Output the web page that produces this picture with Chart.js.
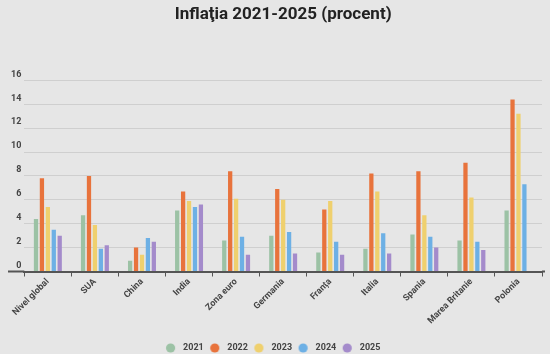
<!DOCTYPE html>
<html><head><meta charset="utf-8">
<script src="https://cdn.jsdelivr.net/npm/chart.js@4/dist/chart.umd.min.js"></script>
<style>html,body{margin:0;padding:0;background:#e6e6e6;} #wrap{width:550px;height:354px;position:relative;}</style>
</head><body><div id="wrap"><canvas id="c"></canvas></div>
<script>
const categories = ['Nivel global','SUA','China','India','Zona euro','Germania','Franța','Italia','Spania','Marea Britanie','Polonia'];
const years = ['2021','2022','2023','2024','2025'];
const v2021 = [4.4,4.7,0.9,5.1,2.6,3.0,1.6,1.9,3.1,2.6,5.1];
const v2022 = [7.8,8.0,2.0,6.7,8.4,6.9,5.2,8.2,8.4,9.1,14.4];
const v2023 = [5.4,3.9,1.4,5.9,6.1,6.0,5.9,6.7,4.7,6.2,13.2];
const v2024 = [3.5,1.9,2.8,5.4,2.9,3.3,2.5,3.2,2.9,2.5,7.3];
const v2025 = [3.0,2.2,2.5,5.6,1.4,1.5,1.4,1.5,2.0,1.8,null];
const yTickValues = [0,2,4,6,8,10,12,14,16];
const titleText = 'Inflaţia 2021-2025 (procent)';

const colors = ['#9cc2a5','#e8733c','#efd06e','#6db0e5','#a48bcb'];
const seriesValues = [v2021,v2022,v2023,v2024,v2025];

function legendDot(color){
  const cv = document.createElement('canvas');
  cv.width = 20; cv.height = 12;
  const g = cv.getContext('2d');
  g.fillStyle = color;
  g.beginPath(); g.arc(10-3.5, 6, 4.6, 0, Math.PI*2); g.fill();
  return cv;
}

const baselineExt = {
  id:'baselineExt',
  afterDatasetsDraw(chart){
    const y = chart.scales.y.getPixelForValue(0);
    const ctx = chart.ctx;
    ctx.save();
    ctx.strokeStyle = '#555';
    ctx.lineWidth = 2;
    ctx.beginPath();
    ctx.moveTo(8, y); ctx.lineTo(chart.chartArea.left, y);
    ctx.moveTo(chart.chartArea.right, y); ctx.lineTo(chart.chartArea.right + 3, y);
    ctx.stroke();
    ctx.restore();
  }
};

new Chart(document.getElementById('c'), {
  type:'bar',
  data:{
    labels: categories,
    datasets: years.map((yr,i)=>({
      label: yr,
      data: seriesValues[i],
      backgroundColor: colors[i],
      categoryPercentage: 0.63,
      barPercentage: 0.72
    }))
  },
  plugins:[baselineExt],
  options:{
    responsive:true,
    maintainAspectRatio:false,
    animation:false,
    layout:{padding:{left:8,right:8,top:0,bottom:-8.5}},
    plugins:{
      title:{display:true,text:titleText,color:'#222',fullSize:false,
        font:{family:'Roboto',size:17,weight:'bold'},
        padding:{top:5,bottom:55}},
      legend:{position:'bottom',
        labels:{color:'#444',font:{family:'Roboto',size:9,weight:'bold'},
          boxWidth:9,boxHeight:9,padding:10,usePointStyle:true,
          generateLabels(chart){
            return chart.data.datasets.map((ds,i)=>({
              text: ds.label, fillStyle: colors[i], strokeStyle: colors[i],
              lineWidth:0, pointStyle: legendDot(colors[i]), hidden:false, datasetIndex:i,
              fontColor:'#444'
            }));
          }}},
      tooltip:{enabled:false}
    },
    scales:{
      x:{
        afterFit(scale){ scale.height = 62; },
        grid:{display:true,drawOnChartArea:false,drawTicks:true,tickLength:5,color:'#555',offset:true},
        border:{display:true,color:'#555',width:2},
        ticks:{color:'#444',font:{family:'Roboto',size:9,weight:'bold'},maxRotation:45,minRotation:45,padding:0,autoSkip:false}
      },
      y:{
        min:0,max:16,
        afterBuildTicks(scale){ scale.ticks = yTickValues.map(v=>({value:v})); },
        grid:{color:'#cfcfcf',drawTicks:false,lineWidth:1},
        border:{display:false},
        ticks:{color:'#444',font:{family:'Roboto',size:9,weight:'bold'},padding:3,labelOffset:-6}
      }
    }
  }
});
</script>
</body></html>
